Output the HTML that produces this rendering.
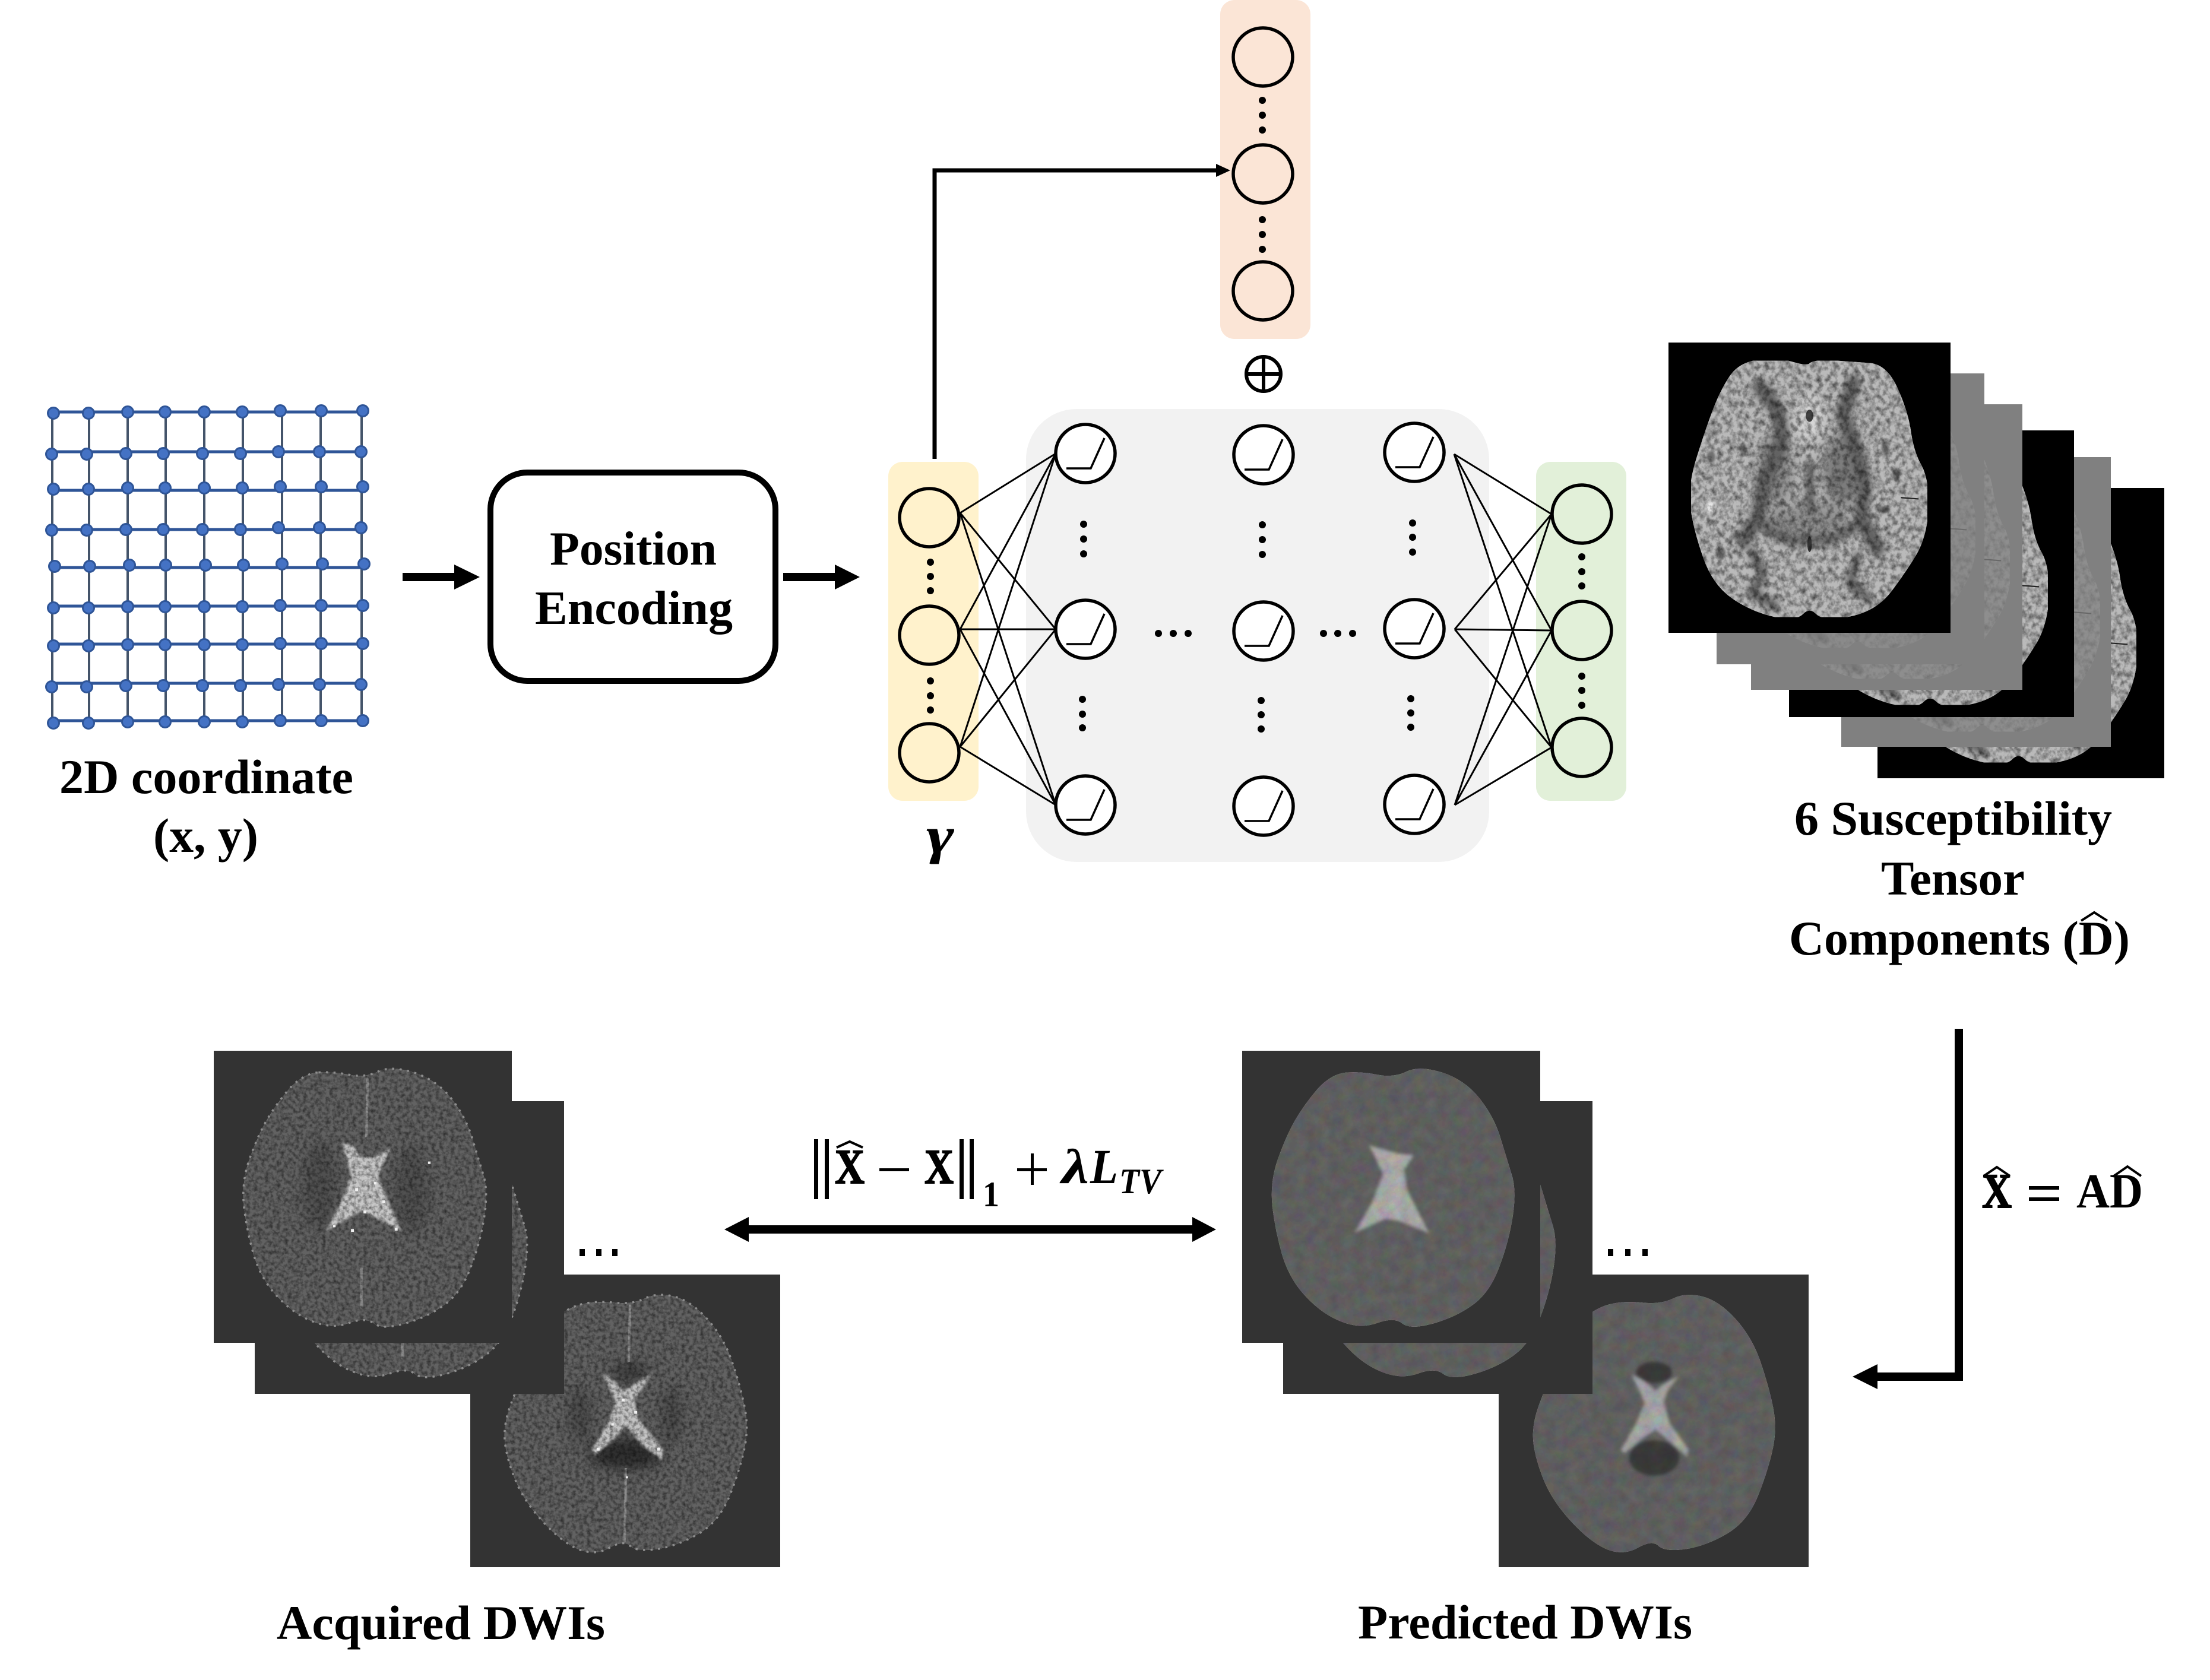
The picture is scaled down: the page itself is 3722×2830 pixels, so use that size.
<!DOCTYPE html>
<html><head><meta charset="utf-8"><title>Diagram</title>
<style>
html,body{margin:0;padding:0;background:#fff}
svg{display:block}
text{font-family:"Liberation Serif",serif;font-weight:bold;fill:#000}
</style></head><body>
<svg xmlns="http://www.w3.org/2000/svg" width="3722" height="2830" viewBox="0 0 3722 2830">
<defs>
<filter id="tn" x="0" y="0" width="1" height="1" color-interpolation-filters="sRGB">
<feTurbulence type="fractalNoise" baseFrequency=".07" numOctaves="3" seed="7"/>
<feColorMatrix values="1.1 0 0 0 .3  1.1 0 0 0 .3  1.1 0 0 0 .3  0 0 0 0 1"/>
<feComposite in2="SourceGraphic" operator="in" result="m"/>
<feBlend in="SourceGraphic" in2="m" mode="multiply"/>
</filter>
<filter id="gr" x="0" y="0" width="1" height="1" color-interpolation-filters="sRGB">
<feTurbulence type="fractalNoise" baseFrequency=".11" numOctaves="3" seed="3"/>
<feColorMatrix values="1 0 0 0 .36  1 0 0 0 .36  1 0 0 0 .36  0 0 0 0 1"/>
<feComposite in2="SourceGraphic" operator="in" result="m"/>
<feBlend in="SourceGraphic" in2="m" mode="multiply"/>
</filter>
<filter id="bl" x="0" y="0" width="1" height="1" color-interpolation-filters="sRGB">
<feTurbulence type="fractalNoise" baseFrequency=".05" numOctaves="3" seed="11"/>
<feComponentTransfer><feFuncR type="discrete" tableValues=".8 .84 .88 .92 .96 1 1"/><feFuncG type="discrete" tableValues=".8 .84 .88 .92 .96 1 1"/><feFuncB type="discrete" tableValues=".8 .84 .88 .92 .96 1 1"/><feFuncA type="linear" slope="0" intercept="1"/></feComponentTransfer>
<feComposite in2="SourceGraphic" operator="in" result="m"/>
<feBlend in="SourceGraphic" in2="m" mode="multiply"/>
</filter>
<filter id="s6" x="-20%" y="-20%" width="140%" height="140%"><feGaussianBlur stdDeviation="8"/></filter>
<filter id="s3" x="-30%" y="-30%" width="160%" height="160%"><feGaussianBlur stdDeviation="3"/></filter>
<filter id="s12" x="-30%" y="-30%" width="160%" height="160%"><feGaussianBlur stdDeviation="16"/></filter>

<g id="tb">
<g filter="url(#tn)">
<path fill="#bababa" stroke="#bababa" stroke-width="8" stroke-linejoin="round" d="M345 80 Q400 76 437 86 Q475 95 482 88 Q490 80 545 82 Q600 85 645 88 Q690 92 718 148 Q745 200 752 245 Q760 290 780 320 Q800 350 800 415 Q795 480 768 520 Q740 560 700 605 Q660 650 590 662 Q520 674 500 657 Q480 640 460 657 Q440 674 380 662 Q320 650 270 620 Q220 590 195 530 Q170 470 161 420 Q152 370 176 305 Q200 240 220 195 Q240 150 265 118 Q290 85 345 80Z"/>
<g filter="url(#s12)"><ellipse cx="385" cy="330" rx="50" ry="80" fill="#8a8a8a"/><ellipse cx="570" cy="330" rx="55" ry="85" fill="#7c7c7c"/><ellipse cx="470" cy="450" rx="120" ry="40" fill="#8c8c8c"/><ellipse cx="480" cy="210" rx="35" ry="50" fill="#d8d8d8"/></g>
<g fill="none" stroke="#626262" stroke-linecap="round" stroke-linejoin="round" filter="url(#s6)">
<path stroke-width="40" d="M345 140 395 195 405 265 355 360 340 440 300 490"/>
<path stroke-width="40" d="M600 130 570 200 600 270 630 360 620 440 665 510"/>
<path stroke-width="24" d="M480 320 482 415"/>
<path stroke-width="22" d="M340 450 420 490 540 490 625 450"/>
<path stroke-width="24" d="M325 520 355 570 320 610 385 640"/>
<path stroke-width="24" d="M610 530 590 590 640 625"/>
</g>
<g fill="#6e6e6e" filter="url(#s3)">
<ellipse cx="300" cy="282" rx="10" ry="14"/><ellipse cx="686" cy="280" rx="11" ry="14"/><ellipse cx="222" cy="245" rx="10" ry="6"/><ellipse cx="716" cy="340" rx="10" ry="16"/><ellipse cx="212" cy="300" rx="12" ry="14"/><ellipse cx="238" cy="520" rx="14" ry="14"/><ellipse cx="285" cy="480" rx="16" ry="10"/><ellipse cx="680" cy="420" rx="20" ry="8"/>
</g>
<ellipse cx="480" cy="205" rx="10" ry="14" fill="#444"/>
<ellipse cx="480" cy="500" rx="6" ry="18" fill="#333"/>
<ellipse cx="212" cy="415" rx="14" ry="12" fill="#e8e8e8" filter="url(#s3)"/>
</g>
<path d="M728 393 776 396" stroke="#222" stroke-width="3"/>
</g>

<path id="p1" d="M337 82 Q375 80 412 88 Q450 95 480 80 Q510 65 565 82 Q620 100 655 145 Q690 190 705 240 Q720 290 732 330 Q745 370 735 435 Q725 500 702 560 Q680 620 640 650 Q600 680 545 696 Q490 712 470 696 Q450 680 410 695 Q370 710 325 692 Q280 675 240 632 Q200 590 182 530 Q165 470 158 410 Q152 350 171 295 Q190 240 212 200 Q235 160 267 122 Q300 85 337 82Z"/>
<path id="p3" d="M965 650 Q1000 640 1045 645 Q1090 650 1120 635 Q1150 620 1190 630 Q1230 640 1270 685 Q1310 730 1330 790 Q1350 850 1360 900 Q1370 950 1360 1000 Q1350 1050 1325 1115 Q1300 1180 1250 1210 Q1200 1240 1150 1248 Q1100 1255 1085 1240 Q1070 1225 1035 1245 Q1000 1265 960 1248 Q920 1230 875 1180 Q830 1130 810 1080 Q790 1030 785 990 Q780 950 795 905 Q810 860 840 790 Q870 720 900 690 Q930 660 965 650Z"/>

<g id="a1" transform="translate(300,1750) scale(.7015,.6887)">
<g filter="url(#gr)">
<use href="#p1" fill="#626262"/>
<g filter="url(#s12)"><ellipse cx="340" cy="360" rx="40" ry="110" fill="#505050"/><ellipse cx="560" cy="370" rx="40" ry="110" fill="#505050"/></g>
<path d="M455 95 452 240 M440 560 440 660" stroke="#8c8c8c" stroke-width="6" fill="none"/>
<polygon filter="url(#s3)" points="395,255 420,262 440,290 470,290 510,268 490,310 480,340 535,470 480,440 440,420 405,440 355,470 400,380 415,330 400,280" fill="#c8c8c8"/>
</g>
<g fill="#f0f0f0"><rect x="425" y="365" width="7" height="7"/><rect x="470" y="350" width="6" height="6"/><rect x="490" y="395" width="7" height="7"/><rect x="445" y="420" width="7" height="7"/><rect x="415" y="465" width="7" height="7"/><rect x="520" y="462" width="7" height="7"/><rect x="372" y="455" width="6" height="6"/><rect x="600" y="300" width="6" height="6"/></g>
<use href="#p1" fill="none" stroke="#8e8e8e" stroke-width="5" stroke-dasharray="5 13"/>
</g>
<g id="a3" transform="translate(300,1750) scale(.7015,.6887)">
<g filter="url(#gr)">
<use href="#p3" fill="#626262"/>
<g filter="url(#s12)"><ellipse cx="1075" cy="1015" rx="90" ry="38" fill="#2f2f2f"/><ellipse cx="965" cy="920" rx="25" ry="70" fill="#4a4a4a"/><ellipse cx="1185" cy="920" rx="25" ry="70" fill="#4a4a4a"/><ellipse cx="1085" cy="815" rx="45" ry="22" fill="#3a3a3a"/></g>
<path d="M1085 650 1082 790 M1075 1050 1072 1230" stroke="#8c8c8c" stroke-width="6" fill="none"/>
<polygon filter="url(#s3)" points="1020,820 1040,830 1070,862 1110,835 1140,815 1110,860 1095,885 1105,930 1165,1005 1162,1030 1115,995 1075,945 1040,985 1000,1018 993,1005 1035,935 1050,885" fill="#c4c4c4"/>
</g>
<g fill="#f0f0f0"><rect x="1065" y="880" width="7" height="7"/><rect x="1095" y="910" width="7" height="7"/><rect x="1040" y="940" width="6" height="6"/><rect x="1150" y="1000" width="7" height="7"/><rect x="1005" y="1000" width="7" height="7"/><rect x="1075" y="1070" width="5" height="5"/></g>
<use href="#p3" fill="none" stroke="#8e8e8e" stroke-width="5" stroke-dasharray="5 13"/>
</g>
<g id="b1">
<g filter="url(#bl)">
<use href="#p1" fill="#666666" transform="translate(1732,0) translate(300,1750) scale(.7015,.6887)"/>
<polygon filter="url(#s3)" points="2306,1929 2329,1936 2354,1943 2381,1946 2365,1970 2370,2005 2407,2077 2354,2056 2333,2053 2281,2077 2311,2025 2329,1977" fill="#b4b4b4"/>
</g>
</g>
<g id="b3">
<g filter="url(#bl)">
<use href="#p3" fill="#666666" transform="translate(1732,0) translate(300,1750) scale(.7015,.6887)"/>
<ellipse cx="2786" cy="2456" rx="42" ry="30" fill="#3c3c3c" filter="url(#s3)"/>
<ellipse cx="2786" cy="2312" rx="30" ry="18" fill="#3c3c3c" filter="url(#s3)"/>
<polygon filter="url(#s3)" points="2748,2315 2767,2325 2788,2342 2809,2327 2828,2318 2809,2342 2802,2360 2812,2397 2844,2442 2841,2454 2812,2428 2788,2408 2764,2425 2735,2449 2730,2442 2754,2401 2770,2363" fill="#aeaeae"/>
</g>
</g>
</defs>

<rect width="3722" height="2830" fill="#fff"/>

<!-- coordinate grid -->
<g fill="none" stroke="#2f5597" stroke-width="5">
<path d="M88 694H611M88 761H611M88 826H611M88 892H611M88 956H611M88 1021H611M88 1085H611M88 1151H611M88 1214H611"/>
</g>
<g fill="none" stroke="#44546a" stroke-width="4">
<path d="M88 694V1216M150 694V1216M215 694V1216M279 694V1216M344 694V1216M409 694V1216M475 694V1216M540 694V1216M609 694V1216"/>
</g>
<g fill="#4472c4" stroke="#2f5597" stroke-width="3">
<circle cx="90" cy="696" r="9.5"/><circle cx="149" cy="696" r="9.5"/><circle cx="215" cy="694" r="9.5"/><circle cx="278" cy="694" r="9.5"/><circle cx="344" cy="694" r="9.5"/><circle cx="408" cy="694" r="9.5"/><circle cx="472" cy="692" r="9.5"/><circle cx="541" cy="692" r="9.5"/><circle cx="611" cy="692" r="9.5"/>
<circle cx="87" cy="765" r="9.5"/><circle cx="146" cy="765" r="9.5"/><circle cx="212" cy="764" r="9.5"/><circle cx="275" cy="764" r="9.5"/><circle cx="341" cy="764" r="9.5"/><circle cx="405" cy="764" r="9.5"/><circle cx="469" cy="761" r="9.5"/><circle cx="538" cy="761" r="9.5"/><circle cx="608" cy="761" r="9.5"/>
<circle cx="90" cy="824" r="9.5"/><circle cx="149" cy="824" r="9.5"/><circle cx="215" cy="822" r="9.5"/><circle cx="278" cy="822" r="9.5"/><circle cx="344" cy="822" r="9.5"/><circle cx="408" cy="822" r="9.5"/><circle cx="472" cy="820" r="9.5"/><circle cx="541" cy="820" r="9.5"/><circle cx="611" cy="820" r="9.5"/>
<circle cx="87" cy="893" r="9.5"/><circle cx="146" cy="893" r="9.5"/><circle cx="212" cy="892" r="9.5"/><circle cx="275" cy="892" r="9.5"/><circle cx="341" cy="892" r="9.5"/><circle cx="405" cy="892" r="9.5"/><circle cx="469" cy="889" r="9.5"/><circle cx="538" cy="889" r="9.5"/><circle cx="608" cy="889" r="9.5"/>
<circle cx="92" cy="954" r="9.5"/><circle cx="151" cy="954" r="9.5"/><circle cx="218" cy="952" r="9.5"/><circle cx="279" cy="952" r="9.5"/><circle cx="346" cy="952" r="9.5"/><circle cx="410" cy="952" r="9.5"/><circle cx="475" cy="950" r="9.5"/><circle cx="543" cy="950" r="9.5"/><circle cx="613" cy="950" r="9.5"/>
<circle cx="90" cy="1024" r="9.5"/><circle cx="149" cy="1024" r="9.5"/><circle cx="215" cy="1022" r="9.5"/><circle cx="278" cy="1022" r="9.5"/><circle cx="344" cy="1022" r="9.5"/><circle cx="408" cy="1022" r="9.5"/><circle cx="472" cy="1020" r="9.5"/><circle cx="541" cy="1020" r="9.5"/><circle cx="611" cy="1020" r="9.5"/>
<circle cx="90" cy="1088" r="9.5"/><circle cx="149" cy="1088" r="9.5"/><circle cx="215" cy="1086" r="9.5"/><circle cx="278" cy="1086" r="9.5"/><circle cx="344" cy="1086" r="9.5"/><circle cx="408" cy="1086" r="9.5"/><circle cx="472" cy="1084" r="9.5"/><circle cx="541" cy="1084" r="9.5"/><circle cx="611" cy="1084" r="9.5"/>
<circle cx="87" cy="1157" r="9.5"/><circle cx="146" cy="1157" r="9.5"/><circle cx="212" cy="1155" r="9.5"/><circle cx="275" cy="1155" r="9.5"/><circle cx="341" cy="1155" r="9.5"/><circle cx="405" cy="1155" r="9.5"/><circle cx="469" cy="1153" r="9.5"/><circle cx="538" cy="1153" r="9.5"/><circle cx="608" cy="1153" r="9.5"/>
<circle cx="90" cy="1218" r="9.5"/><circle cx="149" cy="1218" r="9.5"/><circle cx="215" cy="1216" r="9.5"/><circle cx="278" cy="1216" r="9.5"/><circle cx="344" cy="1216" r="9.5"/><circle cx="408" cy="1216" r="9.5"/><circle cx="472" cy="1214" r="9.5"/><circle cx="541" cy="1214" r="9.5"/><circle cx="611" cy="1214" r="9.5"/>
</g>
<text x="100" y="1336" font-size="82" textLength="495" lengthAdjust="spacingAndGlyphs">2D coordinate</text>
<text x="258" y="1435" font-size="82" textLength="177" lengthAdjust="spacingAndGlyphs">(x, y)</text>

<!-- arrows top-left -->
<polygon points="678,965 765,965 765,951 808,972 765,993 765,979 678,979"/>
<polygon points="1319,965 1406,965 1406,951 1448,972 1406,993 1406,979 1319,979"/>

<!-- position encoding -->
<rect x="826" y="796" width="480" height="351" rx="62" ry="62" fill="#fff" stroke="#000" stroke-width="10"/>
<text x="926" y="951" font-size="80" textLength="281" lengthAdjust="spacingAndGlyphs">Position</text>
<text x="901" y="1051" font-size="80" textLength="333" lengthAdjust="spacingAndGlyphs">Encoding</text>

<!-- panels -->
<rect x="2055" y="0" width="152" height="571" rx="24" fill="#fbe5d6"/>
<rect x="1728" y="689" width="780" height="763" rx="85" fill="#f2f2f2"/>
<rect x="1496" y="778" width="152" height="571" rx="24" fill="#fff2cc"/>
<rect x="2587" y="778" width="152" height="571" rx="24" fill="#e2f0d9"/>

<!-- skip connection -->
<path d="M1574 773V287H2050" fill="none" stroke="#000" stroke-width="7"/>
<polygon points="2048,276 2072,287 2048,298"/>
<g fill="none" stroke="#000" stroke-width="6"><circle cx="2128" cy="630" r="29"/><path d="M2099 630H2157M2128 601V659"/></g>

<!-- connections -->
<g stroke="#000" stroke-width="3" fill="none">
<path d="M1617 864 1778 764M1617 864 1778 1060M1617 864 1778 1356M1617 1060 1778 764M1617 1060 1778 1060M1617 1060 1778 1356M1617 1258 1778 764M1617 1258 1778 1060M1617 1258 1778 1356"/>
<path d="M2449 765 2613 866M2449 765 2613 1062M2449 765 2613 1259M2450 1060 2613 866M2450 1060 2613 1062M2450 1060 2613 1259M2450 1356 2613 866M2450 1356 2613 1062M2450 1356 2613 1259"/>
</g>

<!-- nodes -->
<g fill="none" stroke="#000" stroke-width="5.5">
<ellipse cx="2127" cy="96" rx="50" ry="49"/><ellipse cx="2127" cy="293" rx="50" ry="49"/><ellipse cx="2127" cy="490" rx="50" ry="49"/>
<ellipse cx="1565" cy="872" rx="50" ry="49"/><ellipse cx="1565" cy="1070" rx="50" ry="49"/><ellipse cx="1565" cy="1268" rx="50" ry="49"/>
<ellipse cx="2664" cy="866" rx="50" ry="49"/><ellipse cx="2664" cy="1062" rx="50" ry="49"/><ellipse cx="2664" cy="1259" rx="50" ry="49"/>
</g>
<g fill="#fff" stroke="#000" stroke-width="5.5">
<ellipse cx="1828" cy="764" rx="50" ry="49"/><ellipse cx="1828" cy="1060" rx="50" ry="49"/><ellipse cx="1828" cy="1356" rx="50" ry="49"/>
<ellipse cx="2128" cy="766" rx="50" ry="49"/><ellipse cx="2128" cy="1063" rx="50" ry="49"/><ellipse cx="2128" cy="1358" rx="50" ry="49"/>
<ellipse cx="2382" cy="762" rx="50" ry="49"/><ellipse cx="2382" cy="1059" rx="50" ry="49"/><ellipse cx="2382" cy="1355" rx="50" ry="49"/>
</g>
<g fill="none" stroke="#000" stroke-width="3.5">
<path d="M1796 789H1837L1860 738M1796 1085H1837L1860 1034M1796 1381H1837L1860 1330"/>
<path d="M2096 791H2137L2160 740M2096 1088H2137L2160 1037M2096 1383H2137L2160 1332"/>
<path d="M2350 787H2391L2414 736M2350 1084H2391L2414 1033M2350 1380H2391L2414 1329"/>
</g>

<!-- dots -->
<g fill="#000">
<circle cx="2126" cy="169" r="6"/><circle cx="2126" cy="194" r="6"/><circle cx="2126" cy="219" r="6"/><circle cx="2126" cy="370" r="6"/><circle cx="2126" cy="395" r="6"/><circle cx="2126" cy="420" r="6"/>
<circle cx="1567" cy="947" r="6"/><circle cx="1567" cy="971" r="6"/><circle cx="1567" cy="995" r="6"/><circle cx="1567" cy="1147" r="6"/><circle cx="1567" cy="1172" r="6"/><circle cx="1567" cy="1196" r="6"/>
<circle cx="2664" cy="938" r="6"/><circle cx="2664" cy="963" r="6"/><circle cx="2664" cy="987" r="6"/><circle cx="2664" cy="1139" r="6"/><circle cx="2664" cy="1163" r="6"/><circle cx="2664" cy="1188" r="6"/>
<circle cx="1825" cy="883" r="6"/><circle cx="1825" cy="908" r="6"/><circle cx="1825" cy="933" r="6"/><circle cx="1823" cy="1178" r="6"/><circle cx="1823" cy="1203" r="6"/><circle cx="1823" cy="1226" r="6"/>
<circle cx="2126" cy="884" r="6"/><circle cx="2126" cy="909" r="6"/><circle cx="2126" cy="934" r="6"/><circle cx="2124" cy="1180" r="6"/><circle cx="2124" cy="1204" r="6"/><circle cx="2124" cy="1228" r="6"/>
<circle cx="2379" cy="881" r="6"/><circle cx="2379" cy="905" r="6"/><circle cx="2379" cy="930" r="6"/><circle cx="2376" cy="1177" r="6"/><circle cx="2376" cy="1201" r="6"/><circle cx="2376" cy="1225" r="6"/>
<circle cx="1951" cy="1067" r="6"/><circle cx="1976" cy="1067" r="6"/><circle cx="2001" cy="1067" r="6"/>
<circle cx="2229" cy="1067" r="6"/><circle cx="2253" cy="1067" r="6"/><circle cx="2278" cy="1067" r="6"/>
</g>
<text x="1560" y="1437" font-size="88" font-style="italic" textLength="47" lengthAdjust="spacingAndGlyphs">γ</text>

<!-- tensor stack -->
<rect x="3162" y="822" width="483" height="489" fill="#000"/>
<g transform="translate(3102,795) scale(.62,.7334)"><use href="#tb"/></g>
<rect x="3101" y="770" width="454" height="488" fill="#808080"/>
<g transform="translate(3041,743) scale(.62,.7334)" opacity=".25"><use href="#tb"/></g>
<rect x="3013" y="725" width="480" height="483" fill="#000"/>
<g transform="translate(2953,698) scale(.62,.7334)"><use href="#tb"/></g>
<rect x="2949" y="681" width="457" height="481" fill="#808080"/>
<g transform="translate(2889,654) scale(.62,.7334)" opacity=".25"><use href="#tb"/></g>
<rect x="2891" y="629" width="451" height="490" fill="#808080"/>
<g transform="translate(2831,602) scale(.62,.7334)" opacity=".2"><use href="#tb"/></g>
<rect x="2810" y="577" width="475" height="489" fill="#000"/>
<g transform="translate(2750,550) scale(.62,.7334)"><use href="#tb"/></g>

<text x="3022" y="1406" font-size="82" textLength="535" lengthAdjust="spacingAndGlyphs">6 Susceptibility</text>
<text x="3168" y="1507" font-size="82" textLength="242" lengthAdjust="spacingAndGlyphs">Tensor</text>
<text x="3013" y="1608" font-size="82" textLength="574" lengthAdjust="spacingAndGlyphs">Components (D)</text>
<polyline points="3505,1551 3527,1537 3549,1551" fill="none" stroke="#000" stroke-width="4"/>

<!-- acquired -->
<rect x="792" y="2147" width="522" height="493" fill="#333"/>
<use href="#a3"/>
<rect x="429" y="1855" width="521" height="493" fill="#333"/>
<g transform="translate(69,85)"><use href="#a1"/></g>
<rect x="360" y="1770" width="502" height="492" fill="#333"/>
<use href="#a1"/>
<g fill="#000"><rect x="976" y="2104" width="9" height="12"/><rect x="1004" y="2104" width="9" height="12"/><rect x="1031" y="2104" width="9" height="12"/></g>
<text x="466" y="2761" font-size="82" textLength="553" lengthAdjust="spacingAndGlyphs">Acquired DWIs</text>

<!-- predicted -->
<rect x="2524" y="2147" width="522" height="493" fill="#333"/>
<use href="#b3"/>
<rect x="2161" y="1855" width="521" height="493" fill="#333"/>
<g transform="translate(69,85)"><use href="#b1"/></g>
<rect x="2092" y="1770" width="502" height="492" fill="#333"/>
<use href="#b1"/>
<g fill="#000"><rect x="2708" y="2104" width="9" height="12"/><rect x="2737" y="2104" width="9" height="12"/><rect x="2766" y="2104" width="9" height="12"/></g>
<text x="2287" y="2760" font-size="82" textLength="563" lengthAdjust="spacingAndGlyphs">Predicted DWIs</text>

<!-- double arrow -->
<polygon points="1220,2071 1261,2050 1261,2064 2008,2064 2008,2050 2048,2071 2008,2092 2008,2078 1261,2078 1261,2092"/>

<!-- loss formula -->
<g fill="#000">
<rect x="1371" y="1919" width="7" height="101"/><rect x="1389" y="1919" width="7" height="101"/>
<rect x="1616" y="1919" width="7" height="101"/><rect x="1633" y="1919" width="7" height="101"/>
<rect x="1481" y="1968" width="50" height="5"/>
<rect x="1713" y="1968" width="50" height="5"/><rect x="1736" y="1943" width="5" height="53"/>
</g>
<text x="1406" y="1993" font-size="83" textLength="50" lengthAdjust="spacingAndGlyphs" stroke="#000" stroke-width="2">X</text>
<polyline points="1409,1933 1431,1923 1453,1933" fill="none" stroke="#000" stroke-width="4"/>
<text x="1557" y="1993" font-size="83" textLength="49" lengthAdjust="spacingAndGlyphs" stroke="#000" stroke-width="2">X</text>
<text x="1655" y="2032" font-size="60" textLength="28" lengthAdjust="spacingAndGlyphs">1</text>
<text x="1788" y="1993" font-size="83" font-style="italic" textLength="46" lengthAdjust="spacingAndGlyphs">λ</text>
<text x="1836" y="1993" font-size="83" font-style="italic" textLength="47" lengthAdjust="spacingAndGlyphs">L</text>
<text x="1885" y="2010" font-size="60" font-style="italic" textLength="71" lengthAdjust="spacingAndGlyphs">TV</text>

<!-- right arrow -->
<path d="M3299 1733V2319H3160" fill="none" stroke="#000" stroke-width="14"/>
<polygon points="3120,2319 3162,2298 3162,2340"/>

<!-- X = AD -->
<text x="3338" y="2034" font-size="83" textLength="50" lengthAdjust="spacingAndGlyphs" stroke="#000" stroke-width="2">X</text>
<polyline points="3341,1981 3363,1966 3385,1981" fill="none" stroke="#000" stroke-width="4"/>
<rect x="3417" y="1998" width="51" height="6"/><rect x="3417" y="2017" width="51" height="6"/>
<text x="3497" y="2034" font-size="83" textLength="112" lengthAdjust="spacingAndGlyphs">AD</text>
<polyline points="3560,1981 3583,1965 3606,1981" fill="none" stroke="#000" stroke-width="4"/>
</svg>
</body></html>
